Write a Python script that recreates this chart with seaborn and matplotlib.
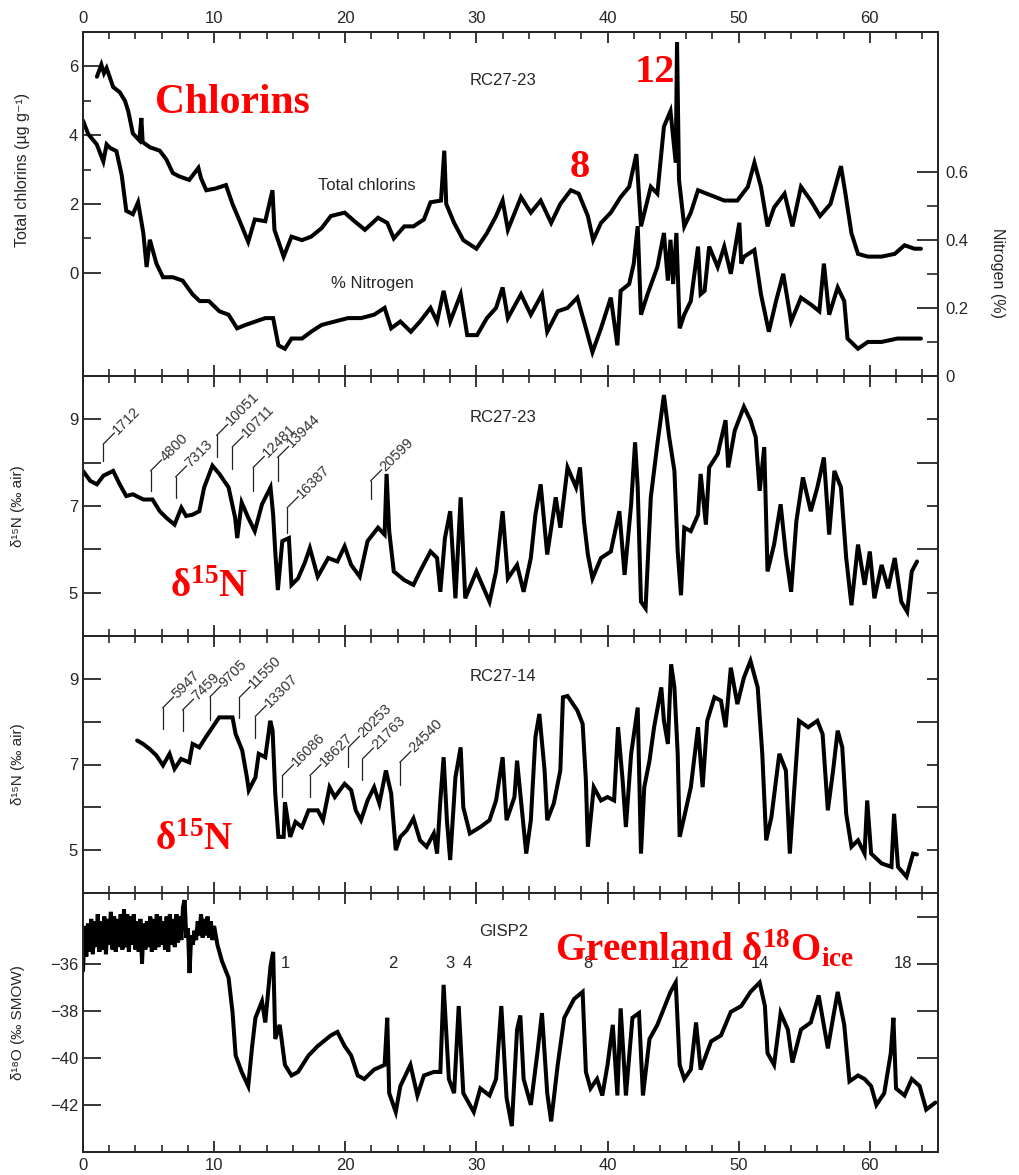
import matplotlib
matplotlib.use("Agg")
import matplotlib.pyplot as plt
import seaborn as sns
import pandas as pd

# ---------------- data ----------------
chl_age = [1.06, 1.4, 1.6, 1.8, 2.3, 2.8, 3.2, 3.45, 3.8, 4.3,
           4.45, 4.55, 5.1, 5.85, 6.35, 6.85, 7.35, 8.1, 8.8, 9.0,
           9.4, 10.1, 10.9, 11.4, 11.9, 12.6, 13.1, 13.9, 14.45, 14.6,
           15.3, 15.9, 16.7, 17.4, 18.2, 18.9, 19.95, 20.7, 21.5, 22.5,
           23.2, 23.7, 24.5, 25.2, 26.0, 26.5, 27.3, 27.55, 27.7, 28.3,
           29.0, 30.0, 30.8, 31.5, 32.0, 32.4, 33.4, 34.15, 34.9, 35.7,
           36.4, 37.2, 37.8, 38.5, 38.9, 39.5, 40.25, 41.0, 41.65, 42.2,
           42.55, 43.3, 43.8, 44.3, 44.8, 45.2, 45.3, 45.45, 45.85, 46.35,
           46.9, 47.9, 48.9, 49.9, 50.7, 51.2, 51.7, 52.2, 52.7, 53.5,
           54.1, 54.75, 55.5, 56.2, 57.0, 57.8, 58.1, 58.6, 59.1, 59.85,
           60.9, 61.9, 62.65, 63.4, 63.9]
chl_val = [5.7, 6.05, 5.8, 5.95, 5.4, 5.25, 5.0, 4.7, 4.05, 3.85,
           4.5, 3.8, 3.65, 3.55, 3.3, 2.9, 2.8, 2.7, 3.05, 2.75,
           2.4, 2.45, 2.55, 2.0, 1.55, 0.9, 1.55, 1.5, 2.4, 1.25,
           0.47, 1.05, 0.95, 1.05, 1.3, 1.65, 1.75, 1.5, 1.25, 1.6,
           1.45, 1.0, 1.35, 1.35, 1.55, 2.05, 2.1, 3.55, 2.0, 1.45,
           0.95, 0.7, 1.15, 1.65, 2.1, 1.25, 2.2, 1.75, 2.1, 1.45,
           2.0, 2.4, 2.3, 1.65, 0.95, 1.45, 1.75, 2.2, 2.5, 3.45,
           1.35, 2.5, 2.3, 4.25, 4.7, 3.2, 6.7, 2.7, 1.35, 1.75,
           2.4, 2.25, 2.1, 2.1, 2.5, 3.2, 2.5, 1.35, 1.9, 2.3,
           1.35, 2.5, 2.1, 1.65, 2.0, 3.1, 2.4, 1.15, 0.55, 0.47,
           0.47, 0.55, 0.8, 0.7, 0.7]

nit_age = [0.0, 0.4, 1.05, 1.55, 1.8, 2.05, 2.55, 2.95, 3.3, 3.8,
           4.2, 4.6, 4.85, 5.1, 5.6, 6.1, 6.85, 7.6, 8.35, 8.9,
           9.6, 10.4, 11.1, 11.75, 12.4, 13.15, 13.9, 14.5, 14.9, 15.4,
           15.9, 16.7, 17.4, 18.2, 19.2, 20.2, 21.2, 22.2, 23.0, 23.5,
           24.2, 25.0, 25.7, 26.5, 27.0, 27.5, 28.0, 28.8, 29.3, 30.05,
           30.8, 31.5, 32.0, 32.4, 33.4, 34.15, 35.0, 35.4, 36.2, 36.95,
           37.7, 38.35, 38.85, 39.5, 40.25, 40.75, 41.0, 41.65, 42.0, 42.3,
           42.55, 43.05, 43.8, 44.3, 44.6, 44.8, 45.0, 45.25, 45.5, 45.85,
           46.35, 46.9, 47.1, 47.4, 47.75, 48.4, 48.9, 49.4, 50.05, 50.2,
           50.4, 51.2, 51.7, 52.3, 52.85, 53.4, 54.0, 54.75, 55.5, 56.15,
           56.5, 56.9, 57.55, 58.05, 58.3, 59.1, 59.85, 60.9, 62.1, 63.4,
           63.9]
nit_val = [0.75, 0.71, 0.68, 0.63, 0.68, 0.67, 0.66, 0.59, 0.485, 0.475,
           0.51, 0.42, 0.32, 0.40, 0.33, 0.29, 0.29, 0.28, 0.24, 0.22,
           0.22, 0.19, 0.18, 0.14, 0.15, 0.16, 0.17, 0.17, 0.09, 0.08,
           0.11, 0.11, 0.13, 0.15, 0.16, 0.17, 0.17, 0.18, 0.20, 0.14,
           0.16, 0.13, 0.16, 0.20, 0.16, 0.25, 0.16, 0.24, 0.12, 0.12,
           0.17, 0.20, 0.26, 0.17, 0.24, 0.18, 0.24, 0.13, 0.19, 0.20,
           0.23, 0.14, 0.07, 0.14, 0.23, 0.09, 0.25, 0.27, 0.33, 0.44,
           0.18, 0.24, 0.32, 0.42, 0.28, 0.40, 0.27, 0.42, 0.14, 0.18,
           0.22, 0.38, 0.24, 0.25, 0.38, 0.32, 0.38, 0.30, 0.45, 0.33,
           0.35, 0.37, 0.24, 0.13, 0.22, 0.30, 0.16, 0.23, 0.21, 0.19,
           0.33, 0.18, 0.26, 0.22, 0.11, 0.08, 0.10, 0.10, 0.11, 0.11,
           0.11]

d15n_23_age = [0.0, 0.55, 1.06, 1.56, 2.3, 2.8, 3.3, 3.8, 4.6, 5.3,
               5.85, 6.35, 6.98, 7.5, 7.86, 8.36, 8.87, 9.24, 9.87, 10.4,
               11.1, 11.6, 11.76, 12.1, 12.6, 13.1, 13.65, 14.3, 14.5, 14.66,
               14.86, 15.2, 15.7, 15.9, 16.4, 16.9, 17.3, 17.9, 18.7, 19.4,
               19.95, 20.45, 21.1, 21.7, 22.5, 23.0, 23.15, 23.35, 23.7, 24.5,
               25.2, 25.7, 26.5, 27.0, 27.25, 27.6, 28.0, 28.4, 28.8, 29.15,
               30.0, 31.0, 31.5, 32.0, 32.4, 33.1, 33.6, 34.15, 34.5, 34.9,
               35.4, 36.05, 36.4, 36.95, 37.6, 37.9, 38.2, 38.5, 38.85, 39.5,
               40.25, 40.9, 41.3, 41.8, 42.1, 42.3, 42.55, 42.9, 43.3, 43.8,
               44.3, 44.7, 45.1, 45.35, 45.6, 45.85, 46.35, 46.9, 47.1, 47.5,
               47.75, 48.4, 49.0, 49.2, 49.7, 50.4, 50.9, 51.3, 51.6, 51.95,
               52.2, 52.7, 53.2, 53.6, 54.0, 54.4, 54.9, 55.5, 56.0, 56.5,
               56.9, 57.3, 57.8, 58.2, 58.6, 59.1, 59.6, 60.0, 60.35, 60.9,
               61.4, 61.9, 62.4, 62.85, 63.2, 63.6]
d15n_23_val = [7.81, 7.58, 7.5, 7.7, 7.81, 7.5, 7.23, 7.27, 7.15, 7.15,
               6.88, 6.73, 6.57, 6.96, 6.77, 6.8, 6.88, 7.43, 7.93, 7.74,
               7.43, 6.73, 6.26, 7.08, 6.73, 6.42, 7.04, 7.43, 6.8, 5.95,
               5.06, 6.19, 6.26, 5.18, 5.33, 5.68, 6.03, 5.37, 5.8, 5.72,
               6.07, 5.64, 5.37, 6.19, 6.5, 6.34, 7.74, 6.42, 5.49, 5.29,
               5.18, 5.49, 5.95, 5.8, 5.02, 6.26, 6.88, 4.87, 7.2, 4.87,
               5.49, 4.79, 5.49, 6.88, 5.33, 5.64, 5.02, 5.8, 6.8, 7.5,
               5.88, 7.2, 6.5, 7.89, 7.43, 7.89, 6.65, 5.88, 5.33, 5.8,
               5.95, 6.88, 5.41, 7.04, 8.47, 7.43, 4.79, 4.64, 7.2, 8.43,
               9.56, 8.59, 7.81, 5.95, 4.94, 6.5, 6.42, 6.8, 7.74, 6.57,
               7.89, 8.2, 8.98, 7.89, 8.74, 9.29, 8.98, 8.59, 7.35, 8.36,
               5.49, 6.11, 7.04, 5.88, 5.02, 6.65, 7.66, 6.88, 7.43, 8.12,
               6.34, 7.81, 7.43, 5.8, 4.71, 6.11, 5.18, 5.95, 4.87, 5.64,
               5.1, 5.8, 4.79, 4.56, 5.49, 5.72]

d15n_14_age = [4.13, 4.58, 5.09, 5.6, 6.1, 6.6, 6.98, 7.48, 8.1, 8.36,
               8.87, 9.37, 9.87, 10.38, 10.9, 11.4, 11.64, 12.14, 12.5, 12.64,
               13.15, 13.4, 13.9, 14.28, 14.46, 14.66, 14.9, 15.3, 15.4, 15.8,
               16.2, 16.7, 17.2, 17.9, 18.3, 18.8, 19.2, 19.95, 20.45, 20.8,
               21.2, 21.7, 22.2, 22.6, 23.1, 23.5, 23.85, 24.2, 24.7, 25.2,
               25.7, 26.2, 26.75, 27.0, 27.25, 27.5, 27.75, 28.0, 28.4, 28.8,
               29.0, 29.5, 30.3, 31.0, 31.5, 32.0, 32.3, 32.9, 33.1, 33.5,
               33.8, 34.15, 34.5, 34.8, 35.2, 35.4, 35.9, 36.4, 36.6, 36.95,
               37.7, 38.1, 38.35, 38.5, 38.95, 39.5, 40.0, 40.5, 40.8, 41.15,
               41.4, 41.8, 42.3, 42.55, 42.8, 43.2, 43.55, 44.1, 44.3, 44.6,
               44.85, 45.1, 45.35, 45.5, 45.85, 46.35, 46.9, 47.25, 47.6, 48.15,
               48.65, 49.0, 49.4, 49.9, 50.4, 50.9, 51.45, 51.8, 52.1, 52.5,
               53.1, 53.6, 53.9, 54.25, 54.6, 55.3, 56.0, 56.4, 56.8, 57.2,
               57.55, 57.9, 58.2, 58.6, 59.1, 59.6, 59.8, 60.1, 60.9, 61.65,
               61.85, 62.15, 62.8, 63.3, 63.6]
d15n_14_val = [7.56, 7.48, 7.36, 7.21, 6.98, 7.25, 6.9, 7.13, 7.05, 7.48,
               7.4, 7.64, 7.87, 8.1, 8.1, 8.1, 7.71, 7.33, 6.7, 6.4,
               6.7, 7.25, 7.17, 8.02, 7.79, 6.32, 5.31, 5.31, 6.12, 5.31,
               5.66, 5.54, 5.93, 5.93, 5.7, 6.47, 6.24, 6.55, 6.4, 5.93,
               5.7, 6.16, 6.47, 6.09, 6.86, 6.32, 5.0, 5.31, 5.47, 5.74,
               5.23, 5.08, 5.39, 4.92, 6.16, 7.17, 5.7, 4.77, 6.7, 7.4,
               6.0, 5.39, 5.54, 5.7, 6.16, 7.17, 5.7, 6.24, 7.09, 5.85,
               4.92, 5.7, 7.64, 8.18, 6.86, 5.7, 6.09, 6.86, 8.57, 8.6,
               8.26, 7.95, 6.63, 5.08, 6.47, 6.16, 6.24, 6.16, 7.87, 6.63,
               5.54, 7.25, 8.33, 4.92, 6.47, 7.09, 7.87, 8.8, 8.02, 7.48,
               9.34, 8.8, 7.25, 5.31, 5.78, 6.47, 7.87, 6.47, 8.02, 8.57,
               8.49, 7.87, 9.26, 8.41, 9.03, 9.42, 8.8, 7.25, 5.23, 5.78,
               7.25, 6.86, 4.92, 6.47, 8.02, 7.87, 8.02, 7.71, 5.93, 6.86,
               7.79, 7.4, 5.85, 5.08, 5.23, 4.92, 6.16, 4.92, 4.69, 4.61,
               5.85, 4.61, 4.38, 4.92, 4.9]

gisp_age = [0.0, 0.125, 0.25, 0.375, 0.5, 0.625, 0.75, 0.875, 1.0, 1.125,
            1.25, 1.375, 1.5, 1.625, 1.75, 1.875, 2.0, 2.125, 2.25, 2.375,
            2.5, 2.625, 2.75, 2.875, 3.0, 3.125, 3.25, 3.375, 3.5, 3.625,
            3.75, 3.875, 4.0, 4.125, 4.25, 4.375, 4.5, 4.625, 4.75, 4.875,
            5.0, 5.125, 5.25, 5.375, 5.5, 5.625, 5.75, 5.875, 6.0, 6.125,
            6.25, 6.375, 6.5, 6.625, 6.75, 6.875, 7.0, 7.125, 7.25, 7.375,
            7.5, 7.625, 7.75, 7.875, 8.0, 8.125, 8.25, 8.375, 8.5, 8.625,
            8.75, 8.875, 9.0, 9.125, 9.25, 9.375, 9.5, 9.625, 9.75, 9.875,
            10.0,
            10.25, 10.6, 11.1, 11.4, 11.64, 12.1, 12.6, 12.9, 13.15,
            13.65, 13.9, 14.3, 14.5, 14.66, 15.0, 15.4, 15.9, 16.4, 17.2,
            17.9, 18.9, 19.4, 19.95, 20.45, 20.95, 21.45, 22.2, 23.0, 23.2,
            23.35, 23.85, 24.2, 24.97, 25.5, 26.0, 26.75, 27.25, 27.5, 27.9,
            28.3, 28.65, 29.0, 29.8, 30.3, 31.0, 31.5, 31.9, 32.3, 32.7,
            33.1, 33.35, 33.6, 34.15, 34.65, 35.0, 35.4, 35.7, 36.2, 36.7,
            37.45, 38.1, 38.35, 38.7, 39.2, 39.6, 40.0, 40.4, 40.75, 41.0,
            41.4, 41.9, 42.4, 42.7, 43.2, 43.8, 44.3, 44.8, 45.2, 45.5,
            45.85, 46.35, 46.75, 47.1, 47.9, 48.65, 49.4, 50.2, 50.9, 51.6,
            52.0, 52.2, 52.7, 53.2, 53.75, 54.1, 54.75, 55.5, 56.1, 56.8,
            57.2, 57.55, 58.05, 58.45, 59.1, 59.6, 60.1, 60.5, 61.1, 61.6,
            61.8, 62.0, 62.65, 63.2, 63.8, 64.3, 65.0]
gisp_val = [-36.3, -34.4, -35.7, -34.3, -35.5, -34.1, -35.6, -34.2, -35.3, -33.9,
            -35.5, -34.2, -35.4, -34.0, -35.6, -34.1, -35.2, -33.8, -35.4, -34.0,
            -35.5, -34.1, -35.3, -33.9, -35.4, -33.7, -35.3, -33.9, -35.5, -34.0,
            -35.2, -33.9, -35.4, -34.2, -35.5, -34.1, -36.0, -34.3, -35.4, -34.2,
            -35.3, -34.0, -35.5, -34.1, -35.4, -33.9, -35.3, -34.0, -35.2, -34.2,
            -35.4, -34.0, -35.5, -33.9, -35.2, -34.1, -35.3, -33.9, -35.1, -34.0,
            -35.0, -33.6, -33.3, -34.9, -34.5, -36.4, -34.8, -35.2, -34.6, -35.0,
            -34.2, -34.8, -33.9, -34.9, -34.1, -34.8, -34.0, -34.9, -34.2, -35.0,
            -34.4,
            -35.2, -35.9, -36.6, -38.05, -39.9, -40.6, -41.2, -39.5, -38.3,
            -37.6, -38.5, -36.1, -35.5, -39.2, -38.6, -40.3, -40.75, -40.6, -39.9,
            -39.5, -39.05, -38.9, -39.5, -39.9, -40.75, -40.9, -40.5, -40.3, -38.3,
            -41.5, -42.3, -41.2, -40.3, -41.6, -40.75, -40.6, -40.6, -36.9, -40.9,
            -41.5, -37.8, -41.5, -42.3, -41.3, -41.6, -40.9, -37.8, -41.7, -42.9,
            -38.8, -38.2, -40.9, -42.0, -39.8, -38.1, -41.5, -42.7, -40.3, -38.3,
            -37.5, -37.2, -40.6, -41.3, -40.9, -41.6, -40.3, -38.6, -41.6, -37.9,
            -41.6, -38.3, -38.1, -41.6, -39.2, -38.6, -37.9, -37.2, -36.8, -40.3,
            -40.9, -40.5, -38.5, -40.5, -39.3, -39.05, -38.05, -37.8, -37.2, -36.8,
            -37.8, -39.8, -40.3, -38.1, -38.8, -40.2, -38.8, -38.5, -37.35, -39.6,
            -38.3, -37.2, -38.6, -41.0, -40.75, -40.9, -41.2, -42.0, -41.5, -39.8,
            -38.3, -41.3, -41.6, -40.9, -41.2, -42.2, -41.9]

# leader-line annotations (radiocarbon ages)
p2_ann_x = [1.55, 5.15, 7.06, 10.19, 11.38, 12.98, 14.84, 15.57, 21.93]
p2_ann_lo = [8.03, 7.35, 7.19, 8.12, 7.86, 7.35, 7.58, 6.38, 7.16]
p2_ann_hi = [8.43, 7.81, 7.67, 8.63, 8.36, 7.89, 8.12, 6.96, 7.58]
p2_ann_lbl = ['1712', '4800', '7313', '10051', '10711', '12481', '13944', '16387', '20599']

p3_ann_x = [6.07, 7.59, 9.68, 11.91, 13.13, 15.21, 17.3, 20.24, 21.31, 24.16]
p3_ann_lo = [7.83, 7.79, 8.04, 8.09, 7.62, 6.24, 6.24, 6.94, 6.63, 6.51]
p3_ann_hi = [8.32, 8.27, 8.58, 8.56, 8.12, 6.74, 6.74, 7.40, 7.13, 7.05]
p3_ann_lbl = ['5947', '7459', '9705', '11550', '13307', '16086', '18627', '20253', '21763', '24540']

gisp_num_x = [15.47, 23.6, 28.0, 29.3, 38.5, 45.5, 51.6, 62.5]
gisp_num_lbl = ['1', '2', '3', '4', '8', '12', '14', '18']

# ---------------- style ----------------
sns.set_style("ticks")
plt.rcParams['font.family'] = ['Liberation Sans', 'DejaVu Sans']
plt.rcParams['mathtext.fontset'] = 'custom'
plt.rcParams['mathtext.rm'] = 'Liberation Serif'
plt.rcParams['mathtext.bf'] = 'Liberation Serif:bold'
plt.rcParams['mathtext.it'] = 'Liberation Serif:italic'
plt.rcParams['axes.linewidth'] = 1.4

fig = plt.figure(figsize=(10.2, 11.75), dpi=100)
L, W = 83 / 1020, 855 / 1020
def box(top_px, bot_px):
    return [L, 1 - bot_px / 1175, W, (bot_px - top_px) / 1175]

ax1 = fig.add_axes(box(32, 376))
ax2 = fig.add_axes(box(376, 636))
ax3 = fig.add_axes(box(636, 893))
ax4 = fig.add_axes(box(893, 1152))

XMAX = 65.2
line_kw = dict(color='black', lw=2.9, estimator=None, sort=False, legend=False,
               solid_joinstyle='miter')
TFS = 12
RED = '#ff0000'

def style_x(ax, top_labels=False, bottom_labels=False):
    ax.set_xlim(0, XMAX)
    ax.set_xticks([0, 10, 20, 30, 40, 50, 60])
    ax.set_xticks(list(range(0, 66, 2)), minor=True)
    ax.tick_params(axis='x', which='major', direction='in', length=8, width=1.3,
                   top=True, bottom=True, labeltop=top_labels, labelbottom=bottom_labels,
                   labelsize=TFS, pad=4)
    ax.tick_params(axis='x', which='minor', direction='in', length=5, width=1.2,
                   top=True, bottom=True)
    ax.set_xlabel('')

# ---------- panel 1 ----------
sns.lineplot(x=chl_age, y=chl_val, ax=ax1, **line_kw)
ax1.set_ylim(-3, 7)
ax1.set_yticks([0, 2, 4, 6])
ax1.set_yticks([1, 3, 5], minor=True)
ax1.tick_params(axis='y', which='major', direction='in', length=13, width=1.3,
                labelsize=TFS, right=False)
ax1.tick_params(axis='y', which='minor', direction='in', length=6, width=1.2, right=False)
ax1.set_ylabel('Total chlorins (µg g⁻¹)', fontsize=11.5)
ax1.yaxis.set_label_coords(-0.062, 0.6)
style_x(ax1, top_labels=True)

ax1r = ax1.twinx()
sns.lineplot(x=nit_age, y=nit_val, ax=ax1r, **line_kw)
ax1r.set_ylim(0, 1.01)
ax1r.set_yticks([0, 0.2, 0.4, 0.6])
ax1r.set_yticklabels(['0', '0.2', '0.4', '0.6'])
ax1r.set_yticks([0.1, 0.3, 0.5], minor=True)
ax1r.tick_params(axis='y', which='major', direction='in', length=15, width=1.3,
                 labelsize=TFS, pad=5)
ax1r.tick_params(axis='y', which='minor', direction='in', length=8, width=1.2)
ax1r.set_ylabel('Nitrogen (%)', fontsize=11.5, rotation=270)
ax1r.yaxis.set_label_coords(1.078, 0.30)
ax1r.set_xlim(0, XMAX)

ax1.text(32.0, 5.6, 'RC27-23', fontsize=12, ha='center', va='center')
ax1.text(21.65, 2.55, 'Total chlorins', fontsize=12, ha='center', va='center')
ax1.text(22.1, -0.3, '% Nitrogen', fontsize=12, ha='center', va='center')
ax1.text(5.5, 4.64, 'Chlorins', fontsize=30, color=RED, fontweight='bold',
         family='Liberation Serif', ha='left', va='baseline')
ax1.text(42.1, 5.54, '12', fontsize=29, color=RED, fontweight='bold',
         family='Liberation Serif', ha='left', va='baseline')
ax1.text(37.1, 2.78, '8', fontsize=29, color=RED, fontweight='bold',
         family='Liberation Serif', ha='left', va='baseline')

# ---------- panels 2 & 3 ----------
def d15n_panel(ax, ages, vals, core, ann_x, ann_lo, ann_hi, ann_lbl, red_x, red_y):
    sns.lineplot(x=ages, y=vals, ax=ax, **line_kw)
    ax.set_ylim(4, 10)
    ax.set_yticks([5, 7, 9])
    ax.set_yticks([6, 8], minor=True)
    ax.tick_params(axis='y', which='both', direction='in', length=13, width=1.3,
                   labelsize=TFS, right=False)
    ax.set_ylabel('δ¹⁵N (‰ air)', fontsize=11)
    ax.yaxis.set_label_coords(-0.068, 0.5)
    style_x(ax)
    axr = ax.twinx()
    axr.set_ylim(4, 10)
    axr.set_yticks([5, 7, 9])
    axr.set_yticks([6, 8], minor=True)
    axr.tick_params(axis='y', which='major', direction='in', length=8, width=1.3,
                    labelright=False)
    axr.tick_params(axis='y', which='minor', direction='in', length=15, width=1.3)
    ax.text(32.0, 9.05, core, fontsize=12, ha='center', va='center')
    for x, lo, hi, lbl in zip(ann_x, ann_lo, ann_hi, ann_lbl):
        ax.plot([x, x], [lo, hi], color='#222222', lw=0.9)
        ax.annotate('', xy=(x, hi), xytext=(8, 8), textcoords='offset points',
                    arrowprops=dict(arrowstyle='-', lw=0.9, color='#222222',
                                    shrinkA=0, shrinkB=0))
        ax.annotate(lbl, xy=(x, hi), xytext=(8.5, 8.5), textcoords='offset points',
                    rotation=45, rotation_mode='anchor', ha='left', va='center',
                    fontsize=10.5, color='#333333')
    ax.text(red_x, red_y, r'δ$^{\mathbf{15}}$N', fontsize=28, color=RED,
            fontweight='bold', family='Liberation Serif', ha='left', va='baseline')

d15n_panel(ax2, d15n_23_age, d15n_23_val, 'RC27-23',
           p2_ann_x, p2_ann_lo, p2_ann_hi, p2_ann_lbl, 6.6, 4.91)
d15n_panel(ax3, d15n_14_age, d15n_14_val, 'RC27-14',
           p3_ann_x, p3_ann_lo, p3_ann_hi, p3_ann_lbl, 5.5, 5.0)

# ---------- panel 4 ----------
sns.lineplot(x=gisp_age, y=gisp_val, ax=ax4, **line_kw)
ax4.set_ylim(-44, -33)
ax4.set_yticks([-42, -40, -38, -36])
ax4.set_yticklabels(['−42', '−40', '−38', '−36'])
ax4.tick_params(axis='y', which='major', direction='in', length=13, width=1.3,
                labelsize=TFS, right=False)
ax4.set_ylabel('δ¹⁸O (‰ SMOW)', fontsize=11)
ax4.yaxis.set_label_coords(-0.068, 0.5)
style_x(ax4, bottom_labels=True)
ax4r = ax4.twinx()
ax4r.set_ylim(-44, -33)
ax4r.set_yticks([-40, -38, -36, -34])
ax4r.tick_params(axis='y', which='major', direction='in', length=15, width=1.3,
                 labelright=False)
ax4.text(32.1, -34.64, 'GISP2', fontsize=12, ha='center', va='center')
for x, lbl in zip(gisp_num_x, gisp_num_lbl):
    ax4.text(x, -36.0, lbl, fontsize=12, ha='center', va='center')
ax4.text(36.0, -35.9, r'Greenland δ$^{\mathbf{18}}$O$_{\mathbf{ice}}$', fontsize=28,
         color=RED, fontweight='bold', family='Liberation Serif',
         ha='left', va='baseline')

fig.savefig('out.png', dpi=100)
